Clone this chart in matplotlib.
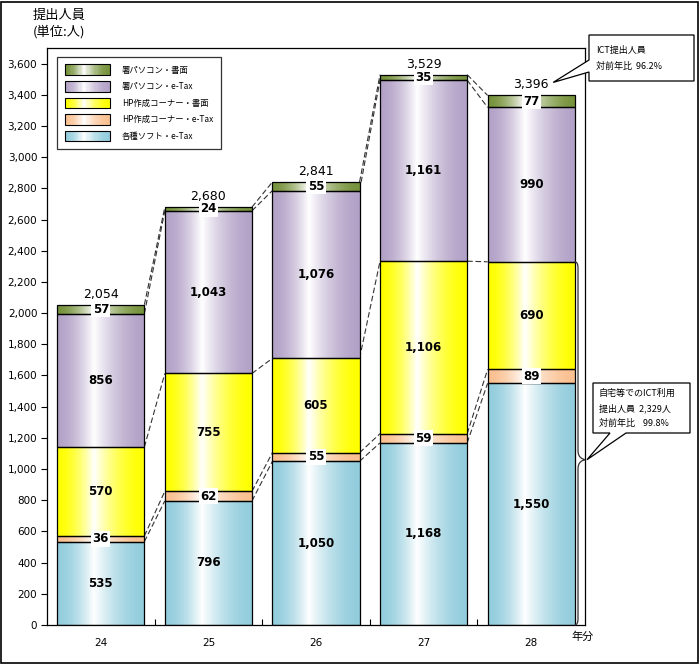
import numpy as np
import matplotlib
matplotlib.use("agg")
import matplotlib.pyplot as plt
from matplotlib.patches import Rectangle, Patch, Polygon, PathPatch
from matplotlib.path import Path
from matplotlib.legend_handler import HandlerBase
from matplotlib.colors import to_rgb

plt.rcParams['font.family'] = ['Noto Sans CJK JP', 'DejaVu Sans']

# data
years = ["24", "25", "26", "27", "28"]
series_names = ["各種ソフト・e-Tax", "HP作成コーナー・e-Tax", "HP作成コーナー・書面",
                "署パソコン・e-Tax", "署パソコン・書面"]
soft_etax = [535, 796, 1050, 1168, 1550]
hp_etax = [36, 62, 55, 59, 89]
hp_paper = [570, 755, 605, 1106, 690]
pc_etax = [856, 1043, 1076, 1161, 990]
pc_paper = [57, 24, 55, 35, 77]
series = [soft_etax, hp_etax, hp_paper, pc_etax, pc_paper]
colors = ["#93CDDD", "#FAC090", "#FFFF00", "#B3A2C7", "#77933C"]
home_ict_total = 2329

W, H = 700, 664
fig = plt.figure(figsize=(W / 100, H / 100), dpi=100)
ax = fig.add_axes([47 / W, 1 - 625 / H, 538 / W, 577 / H])

def grad_rgb(color, n=64):
	c = np.array(to_rgb(color))
	t = np.linspace(0, 1, n)
	# colour at the edges, white a bit left of centre
	w = np.where(t < 0.42, t / 0.42, (1 - t) / 0.58)
	w = np.clip(w, 0, 1) ** 1.7
	return c[None, :] * (1 - w[:, None]) + np.ones(3)[None, :] * w[:, None]

x = np.arange(len(years))
width = 0.81
bottoms = np.zeros(len(years))
cum_levels = []
for vals, col in zip(series, colors):
	vals = np.array(vals, dtype=float)
	bars = ax.bar(x, vals, width, bottom=bottoms, facecolor="none",
				  edgecolor="black", linewidth=0.9, zorder=3)
	g = grad_rgb(col)[None, :, :]
	for b in bars:
		x0, y0 = b.get_x(), b.get_y()
		im = ax.imshow(g, extent=[x0, x0 + b.get_width(), y0, y0 + b.get_height()],
					   aspect="auto", interpolation="bilinear", zorder=2)
		im.set_clip_path(b)
	bottoms = bottoms + vals
	cum_levels.append(bottoms.copy())

# connector lines
for lev in cum_levels:
	for i in range(len(years) - 1):
		ax.plot([i + width / 2, i + 1 - width / 2], [lev[i], lev[i + 1]],
				color="#333333", lw=0.8, ls=(0, (5, 2.5)), zorder=1)

# segment labels
bottoms = np.zeros(len(years))
for k, vals in enumerate(series):
	for i, v in enumerate(vals):
		yc = bottoms[i] + v / 2
		kw = {}
		if k in (1, 4):
			kw["bbox"] = dict(boxstyle="square,pad=0.12", fc="white", ec="none")
		ax.text(i, yc, f"{v:,}", ha="center", va="center", fontsize=8.5,
				fontweight="bold", family="DejaVu Sans", zorder=5, **kw)
	bottoms = bottoms + np.array(vals)

totals = bottoms
for i, t in enumerate(totals):
	ax.annotate(f"{int(t):,}", (i, t), xytext=(0, 3), textcoords="offset points",
				ha="center", va="bottom", fontsize=9, family="DejaVu Sans", zorder=5)

ax.set_xlim(-0.5, len(years) - 0.5)
ax.set_ylim(0, 3700)
ax.set_yticks(np.arange(0, 3601, 200))
ax.set_yticklabels([f"{v:,}" for v in range(0, 3601, 200)], family="DejaVu Sans")
ax.set_xticks(x)
ax.set_xticklabels(years, family="DejaVu Sans")
ax.set_xticks(np.arange(0.5, len(years) - 1, 1), minor=True)
ax.tick_params(axis="x", which="major", length=0, pad=9, labelsize=7.5)
ax.tick_params(axis="x", which="minor", direction="in", length=4, width=0.8)
ax.tick_params(axis="y", direction="out", length=4, width=0.8, labelsize=7.5, pad=3)
for s in ax.spines.values():
	s.set_linewidth(0.9)

# brace next to bar 28
bx_edge = 4 + width / 2
bx = bx_edge + 0.03
tip_x = 4.5
tip_y = 1060
y0b, y1b = 0, home_ict_total
verts = [
	(bx_edge, y1b), (bx, y1b), (bx, y1b - 40),
	(bx, tip_y + 60),
	(bx, tip_y + 10), (tip_x - 0.02, tip_y + 5), (tip_x, tip_y),
	(tip_x - 0.02, tip_y - 5), (bx, tip_y - 10), (bx, tip_y - 60),
	(bx, y0b + 40),
	(bx, y0b), (bx_edge, y0b),
]
codes = [Path.MOVETO, Path.CURVE3, Path.CURVE3, Path.LINETO,
		 Path.CURVE4, Path.CURVE4, Path.CURVE4,
		 Path.CURVE4, Path.CURVE4, Path.CURVE4,
		 Path.LINETO, Path.CURVE3, Path.CURVE3]
ax.add_patch(PathPatch(Path(verts, codes), fc="none", ec="#333333", lw=0.9,
					   zorder=4, clip_on=False))

# legend with gradient handles
class GradHandler(HandlerBase):
	def __init__(self, color):
		super().__init__()
		self.color = color

	def create_artists(self, legend, orig_handle, xdescent, ydescent, width, height, fontsize, trans):
		n = 40
		g = grad_rgb(self.color, n)
		arts = []
		for j in range(n):
			arts.append(Rectangle((-xdescent + j * width / n, -ydescent), width / n * 1.05, height,
								  facecolor=g[j], edgecolor="none", transform=trans))
		arts.append(Rectangle((-xdescent, -ydescent), width, height, facecolor="none",
							  edgecolor="black", lw=0.8, transform=trans))
		return arts

handles = []
hmap = {}
for name, col in zip(series_names[::-1], colors[::-1]):
	h = Patch(label=name)
	handles.append(h)
	hmap[h] = GradHandler(col)
leg = ax.legend(handles=handles, handler_map=hmap, loc="upper left",
				bbox_to_anchor=(10 / 538, 1 - 9 / 577), borderaxespad=0,
				fontsize=6, frameon=True, fancybox=False, edgecolor="black",
				handlelength=5.5, handleheight=1.6, labelspacing=0.7,
				handletextpad=1.4, borderpad=0.9)
leg.get_frame().set_linewidth(0.9)
leg.set_zorder(6)

# axis texts
fig.text(33 / W, 1 - 9 / H, "提出人員\n(単位:人)", ha="left", va="top", fontsize=9.5,
		 linespacing=1.25)
fig.text(583 / W, 1 - 637 / H, "年分", ha="center", va="center", fontsize=8)

# callouts (pixel positions in figure, tip from data)
def to_fig(px, py):
	return (px / W, 1 - py / H)

def callout(box, base, tip, lines, line_y, x_text, fs=6.5):
	l, t, r, b = box
	poly = []
	if base[0] == "left":
		_, ya, yb = base
		pts = [(l, t), (r, t), (r, b), (l, b), (l, yb), tip, (l, ya)]
	else:
		_, xa, xb = base
		pts = [(l, t), (r, t), (r, b), (xb, b), tip, (xa, b), (l, b)]
	for p in pts:
		if p is tip:
			poly.append(p)
		else:
			poly.append(to_fig(*p))
	fig.patches.append(Polygon(poly, closed=True, fc="white", ec="black", lw=0.9,
							   transform=fig.transFigure, zorder=10))
	for s, yy in zip(lines, line_y):
		fig.text(x_text / W, 1 - yy / H, s, ha="left", va="center", fontsize=fs, zorder=11)

inv = fig.transFigure.inverted()
tip1 = tuple(inv.transform(ax.transData.transform((4, totals[4]))))
tip1 = (tip1[0] + 22 / W, tip1[1] + 13 / H)
callout((589, 35, 694, 81), ("left", 60, 72), tip1,
		["ICT提出人員", "対前年比  96.2%"], [50, 66], 596)

tip2 = tuple(inv.transform(ax.transData.transform((tip_x, tip_y))))
tip2 = (tip2[0] + 2 / W, tip2[1])
callout((593, 383, 690, 433), ("bottom", 610, 626), tip2,
		["自宅等でのICT利用", "提出人員  2,329人", "対前年比    99.8%"], [393, 408, 423], 599)

# outer frame
fig.patches.append(Rectangle((1 / W, 1 / H), (W - 3) / W, (H - 3) / H, fill=False,
							 ec="black", lw=1.2, transform=fig.transFigure))

fig.savefig("out.png", dpi=100)
